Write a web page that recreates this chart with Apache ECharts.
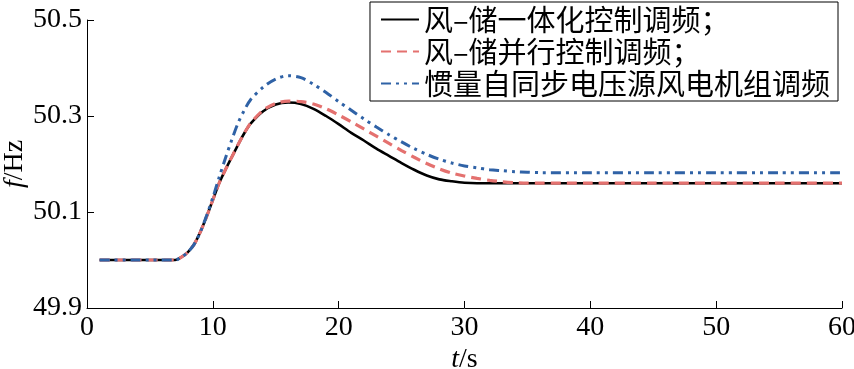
<!DOCTYPE html>
<html>
<head>
<meta charset="utf-8">
<script src="https://cdn.jsdelivr.net/npm/echarts@6/dist/echarts.min.js"></script>
<style>html,body{margin:0;padding:0;background:#fff;}#c{width:854px;height:369px;}</style>
</head>
<body>
<div id="c"></div>
<script>
var times = [1,2,3,4,5,6,7,7.5,8,8.5,9,9.5,10,10.5,11,11.5,12,12.5,13,14,15,16,17,18,19,20,21,22,23,24,25,26,27,28,29,30,31,32,33,34,35,36,40,45,50,55,60];
var integrated = [50.0,50.0,50.0,50.0,50.0,50.0,50.0,50.006,50.016,50.032,50.058,50.09,50.125,50.16,50.188,50.214,50.24,50.264,50.284,50.31,50.324,50.328,50.325,50.315,50.3,50.283,50.265,50.249,50.232,50.217,50.202,50.188,50.176,50.168,50.164,50.161,50.16,50.16,50.16,50.16,50.16,50.16,50.16,50.16,50.16,50.16,50.16];
var parallel = [50.0,50.0,50.0,50.0,50.0,50.0,50.0,50.006,50.016,50.032,50.058,50.09,50.125,50.16,50.188,50.214,50.24,50.264,50.285,50.312,50.326,50.331,50.33,50.325,50.315,50.302,50.288,50.273,50.258,50.243,50.228,50.214,50.201,50.19,50.181,50.175,50.17,50.166,50.163,50.161,50.16,50.16,50.16,50.16,50.16,50.16,50.16];
var inertial = [50.0,50.0,50.0,50.0,50.0,50.0,50.0,50.006,50.016,50.032,50.058,50.092,50.13,50.172,50.212,50.25,50.285,50.312,50.334,50.36,50.377,50.384,50.38,50.366,50.349,50.33,50.312,50.294,50.277,50.261,50.246,50.232,50.22,50.21,50.202,50.196,50.192,50.188,50.186,50.184,50.183,50.182,50.182,50.182,50.182,50.182,50.182];
var seriesNames = ['风–储一体化控制调频；','风–储并行控制调频；','惯量自同步电压源风电机组调频'];
var xTicks = [0,10,20,30,40,50,60];
var yTicks = [49.9,50.1,50.3,50.5];

function pairs(vals){ return times.map(function(t,i){ return [t, vals[i]]; }); }

var chart = echarts.init(document.getElementById('c'));
var serif = "'Liberation Serif','Times New Roman',serif";
chart.setOption({
  animation:false,
  backgroundColor:'#fff',
  grid:{left:87,right:12,top:20,bottom:61,containLabel:false,outerBoundsMode:'none'},
  legend:{
    orient:'vertical', right:16, top:2,
    backgroundColor:'#fff', borderColor:'#000', borderWidth:1,
    padding:[3,8,3,10], itemGap:3, itemWidth:38, itemHeight:14,
    itemStyle:{color:'rgba(0,0,0,0)', borderWidth:0, opacity:0},
    textStyle:{fontSize:29, fontFamily:"'Noto Sans CJK SC'", color:'#000'},
    data:seriesNames
  },
  xAxis:{
    type:'value', min:xTicks[0], max:xTicks[xTicks.length-1], interval:10,
    name:'{i|t}/s', nameLocation:'middle', nameGap:38, nameMoveOverlap:false,
    nameTextStyle:{fontSize:28, fontFamily:serif, color:'#000', rich:{i:{fontSize:28,fontFamily:serif,fontStyle:'italic',color:'#000'}}},
    axisLine:{show:true, lineStyle:{color:'#000', width:1}},
    axisTick:{show:true, inside:true, length:7, lineStyle:{color:'#000'}},
    axisLabel:{fontSize:28, fontFamily:serif, color:'#000', margin:6},
    splitLine:{show:false}
  },
  yAxis:{
    type:'value', min:yTicks[0], max:yTicks[yTicks.length-1], interval:0.2,
    name:'{i|f}/Hz', nameLocation:'middle', nameGap:58, nameMoveOverlap:false,
    nameTextStyle:{fontSize:28, fontFamily:serif, color:'#000', rich:{i:{fontSize:28,fontFamily:serif,fontStyle:'italic',color:'#000'}}},
    axisLine:{show:true, lineStyle:{color:'#000', width:1}},
    axisTick:{show:true, inside:true, length:7, lineStyle:{color:'#000'}},
    axisLabel:{fontSize:28, fontFamily:serif, color:'#000', margin:5, formatter:function(v){return v.toFixed(1);}},
    splitLine:{show:false}
  },
  series:[
    {name:seriesNames[0], type:'line', data:pairs(integrated), showSymbol:false, symbol:'none', smooth:0.3,
     lineStyle:{color:'#000', width:2.6, type:'solid'}, itemStyle:{color:'#000'}, z:2},
    {name:seriesNames[1], type:'line', data:pairs(parallel), showSymbol:false, symbol:'none', smooth:0.3,
     lineStyle:{color:'#e4716f', width:3.2, type:[10,6]}, itemStyle:{color:'#e4716f'}, z:3},
    {name:seriesNames[2], type:'line', data:pairs(inertial), showSymbol:false, symbol:'none', smooth:0.3,
     lineStyle:{color:'#2f62a6', width:3, type:[10,5,3,5,3,5]}, itemStyle:{color:'#2f62a6'}, z:4}
  ]
});
</script>
</body>
</html>
